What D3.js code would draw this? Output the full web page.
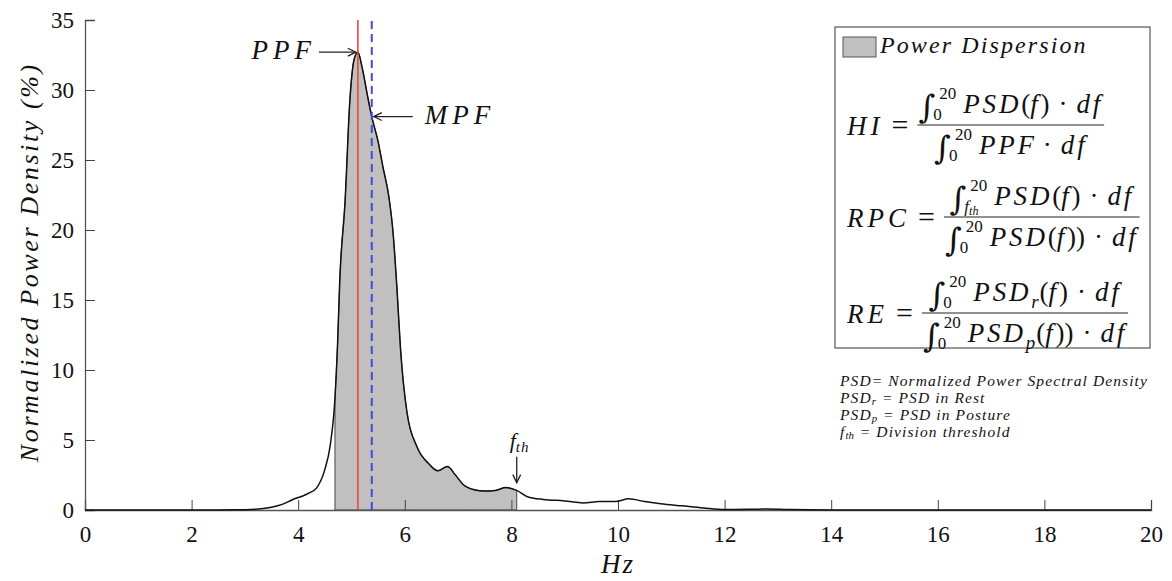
<!DOCTYPE html>
<html>
<head>
<meta charset="utf-8">
<script src="https://cdn.jsdelivr.net/npm/d3@7"></script>
<style>
  body { margin: 0; background: #fff; }
  text { font-family: "Liberation Serif", "DejaVu Serif", serif; fill: #111; white-space: pre; }
</style>
</head>
<body>
<script>
// frequency (Hz) and normalized power density (%)
var freq = [0, 1, 2, 2.8, 3.2, 3.5, 3.7, 3.9, 4.05, 4.2, 4.35, 4.5, 4.6, 4.69, 4.74, 4.78, 4.88, 4.97, 5.05, 5.12,
  5.2, 5.3, 5.38, 5.5, 5.59, 5.7, 5.78, 5.85, 5.92, 6.04, 6.23, 6.45, 6.62, 6.8, 6.95, 7.1, 7.3, 7.5, 7.7, 7.9,
  8.1, 8.3, 8.6, 9.0, 9.35, 9.65, 9.95, 10.2, 10.5, 10.8, 11.2, 11.6, 12, 12.5, 12.8, 13.2, 14, 16, 18, 20];
var psd = [0, 0, 0, 0.01, 0.05, 0.2, 0.4, 0.75, 0.95, 1.2, 1.6, 2.9, 4.6, 8, 12, 16.4, 22.1, 29.3, 32.2, 32.7,
  31.6, 29.6, 28.1, 26.3, 24.5, 22.4, 19.8, 16, 11.5, 7, 4.5, 3.3, 2.8, 3.1, 2.5, 1.8, 1.45, 1.35, 1.4, 1.6,
  1.4, 0.95, 0.75, 0.65, 0.5, 0.6, 0.6, 0.8, 0.6, 0.45, 0.3, 0.15, 0.03, 0.05, 0.07, 0.03, 0, 0, 0, 0];

// marker frequencies
var ppf = 5.12, mpf = 5.38, fth = 8.1;
var bandLow = 4.69, bandHigh = 8.1;

var xTicks = d3.range(0, 21, 2);
var yTicks = d3.range(0, 36, 5);

var notes = [
  [{t: 'PSD= Normalized Power Spectral Density'}],
  [{t: 'PSD'}, {t: 'r', sub: true}, {t: ' = PSD in Rest'}],
  [{t: 'PSD'}, {t: 'p', sub: true}, {t: ' = PSD in Posture'}],
  [{t: 'f'}, {t: 'th', sub: true}, {t: ' = Division threshold'}]
];

var data = freq.map(function(f, i) { return {f: f, v: psd[i]}; });

var width = 1172, height = 581;
var margin = {left: 85, right: 21, top: 20, bottom: 71};

var svg = d3.select('body').append('svg')
  .attr('width', width)
  .attr('height', height);

var x = d3.scaleLinear().domain([0, 20]).range([margin.left, width - margin.right]);
var y = d3.scaleLinear().domain([0, 35]).range([height - margin.bottom, margin.top]);

// shaded power dispersion band
var band = data.filter(function(d) { return d.f >= bandLow && d.f <= bandHigh; });
var area = d3.area()
  .x(function(d) { return x(d.f); })
  .y0(y(0))
  .y1(function(d) { return y(d.v); })
  .curve(d3.curveMonotoneX);

svg.append('path')
  .datum(band)
  .attr('d', area)
  .attr('fill', '#c0c0c0')
  .attr('stroke', '#444')
  .attr('stroke-width', 1);

// axes
var xAxis = svg.append('g')
  .attr('transform', 'translate(0,' + y(0) + ')')
  .call(d3.axisBottom(x).tickValues(xTicks).tickSize(-10).tickPadding(16).tickFormat(d3.format('d')));
var yAxis = svg.append('g')
  .attr('transform', 'translate(' + x(0) + ',0)')
  .call(d3.axisLeft(y).tickValues(yTicks).tickSize(-10).tickPadding(11).tickFormat(d3.format('d')));

[xAxis, yAxis].forEach(function(a) {
  a.select('.domain').attr('stroke', '#555').attr('stroke-width', 1.3);
  a.selectAll('.tick line').attr('stroke', '#444').attr('stroke-width', 1);
  a.selectAll('.tick text')
    .style('font-family', '"Liberation Serif", serif')
    .style('font-size', '23px')
    .attr('fill', '#222');
});

// curve
var line = d3.line()
  .x(function(d) { return x(d.f); })
  .y(function(d) { return y(d.v); })
  .curve(d3.curveMonotoneX);

svg.append('path')
  .datum(data)
  .attr('d', line)
  .attr('fill', 'none')
  .attr('stroke', '#111')
  .attr('stroke-width', 1.5);

// PPF and MPF lines
svg.append('line')
  .attr('x1', x(ppf)).attr('x2', x(ppf))
  .attr('y1', y(0)).attr('y2', y(35))
  .attr('stroke', '#ee4444').attr('stroke-width', 1.6);
svg.append('line')
  .attr('x1', x(mpf)).attr('x2', x(mpf))
  .attr('y1', y(0)).attr('y2', y(35))
  .attr('stroke', '#4848d8').attr('stroke-width', 2)
  .attr('stroke-dasharray', '8,5');

// open arrow helper
function arrow(x1, y1, x2, y2) {
  var a = Math.atan2(y2 - y1, x2 - x1), h = 9, s = 0.45;
  var g = svg.append('g').attr('stroke', '#222').attr('stroke-width', 1.3).attr('fill', 'none');
  g.append('line').attr('x1', x1).attr('y1', y1).attr('x2', x2).attr('y2', y2);
  g.append('path').attr('d', 'M' + (x2 - h * Math.cos(a - s)) + ',' + (y2 - h * Math.sin(a - s)) +
    'L' + x2 + ',' + y2 + 'L' + (x2 - h * Math.cos(a + s)) + ',' + (y2 - h * Math.sin(a + s)));
}

var peakV = psd[freq.indexOf(ppf)];
arrow(x(ppf) - 39, y(peakV), x(ppf) - 2, y(peakV));
svg.append('text')
  .attr('x', x(ppf) - 42).attr('y', y(peakV) + 7)
  .attr('text-anchor', 'end')
  .style('font-size', '27px').style('font-style', 'italic').style('letter-spacing', '5px')
  .text('PPF');

arrow(x(mpf) + 41, y(28.1), x(mpf) + 2, y(28.1));
svg.append('text')
  .attr('x', x(mpf) + 53).attr('y', y(28.1) + 7)
  .style('font-size', '27px').style('font-style', 'italic').style('letter-spacing', '5px')
  .text('MPF');

arrow(x(fth), y(3.8), x(fth), y(1.95));
var fthLabel = svg.append('text')
  .attr('x', x(fth) - 7).attr('y', y(4.45))
  .style('font-size', '22px').style('font-style', 'italic');
fthLabel.append('tspan').text('f');
fthLabel.append('tspan').attr('dy', 4).style('font-size', '15px').style('letter-spacing', '1px').text('th');

// axis titles
svg.append('text')
  .attr('x', x(10)).attr('y', 573)
  .attr('text-anchor', 'middle')
  .style('font-size', '27px').style('font-style', 'italic').style('letter-spacing', '2px')
  .text('Hz');
svg.append('text')
  .attr('transform', 'translate(38,' + y(17.7) + ') rotate(-90)')
  .attr('text-anchor', 'middle')
  .style('font-size', '26px').style('font-style', 'italic')
  .style('letter-spacing', '2.6px')
  .text('Normalized Power Density (%)');

// legend box with formulas
var box = {x: 835, y: 27, w: 315, h: 321};
var lg = svg.append('g');
lg.append('rect')
  .attr('x', box.x).attr('y', box.y).attr('width', box.w).attr('height', box.h)
  .attr('fill', '#fff').attr('stroke', '#555').attr('stroke-width', 1.2);
lg.append('rect')
  .attr('x', 843).attr('y', 37).attr('width', 33).attr('height', 20)
  .attr('fill', '#c0c0c0').attr('stroke', '#555').attr('stroke-width', 1);
lg.append('text')
  .attr('x', 880).attr('y', 53)
  .style('font-size', '24px').style('font-style', 'italic').style('letter-spacing', '2.1px')
  .text('Power Dispersion');

// lay out a math row as one text element of tspans, returns its width
function mathRow(parent, pieces, fs, ls, subDy) {
  var t = parent.append('text');
  var cx = 0;
  function span(str, px, py, size, italic, spacing) {
    var s = t.append('tspan').attr('x', px).attr('y', py)
      .style('font-size', size + 'px')
      .style('font-style', italic ? 'italic' : 'normal')
      .style('letter-spacing', (spacing || 0) + 'px')
      .text(str);
    return s.node().getComputedTextLength();
  }
  pieces.forEach(function(p) {
    if (p.int) {
      var sz = fs * 0.63;
      var ig = t.append('tspan').attr('x', cx).attr('y', 5)
        .style('font-family', '"DejaVu Serif", serif')
        .style('font-style', 'italic')
        .style('font-size', (fs * 1.2) + 'px').text('\u222B');
      var iw = ig.node().getComputedTextLength() - 2;
      var e1 = cx + iw + 6 + span(p.sup, cx + iw + 6, -14, sz, false);
      var e2 = cx + iw + span(p.sub, cx + iw, 7, sz, !!p.subsub);
      if (p.subsub) e2 += span(p.subsub, e2, 10, fs * 0.45, true);
      cx = Math.max(e1, e2) + 7;
    } else if (p.sub) {
      cx += span(p.t, cx, fs * (subDy || 0.25), fs * 0.7, true) + 1;
    } else {
      cx += span(p.t, cx, 0, p.size || fs, !p.up, p.up ? 0 : ls) + (p.gap || 0);
    }
  });
  return {t: t, w: cx};
}

function fraction(label, num, den, lx, base) {
  var fs = 27, ls = 2.8;
  var lab = mathRow(lg, label, fs, 4);
  lab.t.attr('transform', 'translate(' + lx + ',' + base + ')');
  var n = mathRow(lg, num, fs, ls), d = mathRow(lg, den, fs, ls);
  var fx = lx + lab.w + 9;
  var fw = Math.max(n.w, d.w) + 2;
  var ly = base - 10;
  n.t.attr('transform', 'translate(' + (fx + (fw - n.w) / 2) + ',' + (ly - 12) + ')');
  d.t.attr('transform', 'translate(' + (fx + (fw - d.w) / 2) + ',' + (ly + 29) + ')');
  lg.append('line')
    .attr('x1', fx).attr('x2', fx + fw)
    .attr('y1', ly).attr('y2', ly)
    .attr('stroke', '#222').attr('stroke-width', 1.2);
}

var eq = {t: '=', up: true, size: 30};
var dot = [{t: '\u00B7', up: true, gap: 9}, {t: 'df'}];
fraction([{t: 'HI', gap: 8}, eq],
  [{int: true, sup: '20', sub: '0'}, {t: 'PSD'}, {t: '(', up: true}, {t: 'f'}, {t: ')', up: true, gap: 9}].concat(dot),
  [{int: true, sup: '20', sub: '0'}, {t: 'PPF', gap: 6}].concat(dot),
  847, 135);
fraction([{t: 'RPC', gap: 8}, eq],
  [{int: true, sup: '20', sub: 'f', subsub: 'th'}, {t: 'PSD'}, {t: '(', up: true}, {t: 'f'}, {t: ')', up: true, gap: 9}].concat(dot),
  [{int: true, sup: '20', sub: '0'}, {t: 'PSD'}, {t: '(', up: true}, {t: 'f'}, {t: '))', up: true, gap: 9}].concat(dot),
  847, 227);
fraction([{t: 'RE', gap: 8}, eq],
  [{int: true, sup: '20', sub: '0'}, {t: 'PSD'}, {t: 'r', sub: true}, {t: '(', up: true}, {t: 'f'}, {t: ')', up: true, gap: 9}].concat(dot),
  [{int: true, sup: '20', sub: '0'}, {t: 'PSD'}, {t: 'p', sub: true}, {t: '(', up: true}, {t: 'f'}, {t: '))', up: true, gap: 9}].concat(dot),
  847, 323);

// notes below the box
notes.forEach(function(row, i) {
  var r = mathRow(svg, row, 15.5, 1.1, 0.12);
  r.t.attr('transform', 'translate(840,' + (386 + i * 17.1) + ')');
});
</script>
</body>
</html>
